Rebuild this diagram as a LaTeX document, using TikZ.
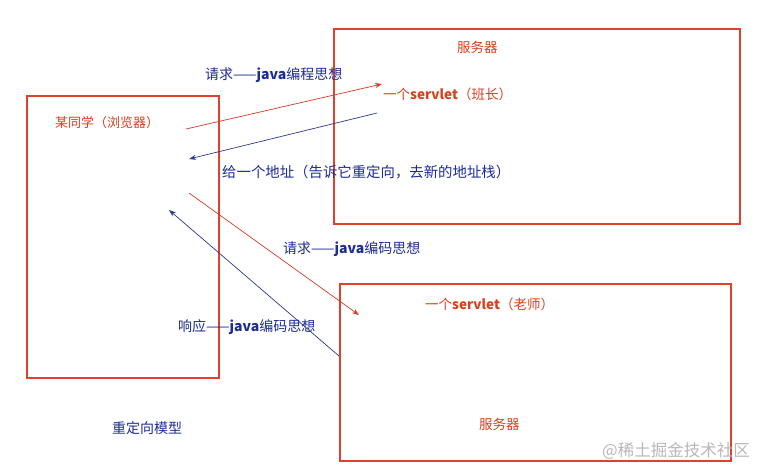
\documentclass[tikz,border=0pt]{standalone}
\usepackage{fontspec}
\newfontfamily\cjk{Noto Sans CJK SC}
\usetikzlibrary{arrows.meta}
\definecolor{boxred}{HTML}{E0402E}
\definecolor{txtred}{HTML}{D8401E}
\definecolor{txtblue}{HTML}{1E2C96}
\definecolor{arrred}{HTML}{D83A26}
\definecolor{arrblue}{HTML}{2A3A8C}
\tikzset{
  box/.style={draw=boxred, line width=1.8pt},
  rtxt/.style={text=txtred, font=\cjk\fontsize{13.5}{16}\selectfont, anchor=west, inner sep=0pt},
  btxt/.style={text=txtblue, font=\cjk\fontsize{14}{16}\selectfont, anchor=west, inner sep=0pt},
  wmark/.style={anchor=west, inner sep=0pt, text=black!28, font=\cjk\fontsize{16.5}{18}\selectfont},
  rarr/.style={draw=arrred, line width=0.7pt, -{Stealth[length=7pt,width=5pt]}},
  barr/.style={draw=arrblue, line width=0.7pt, -{Stealth[length=7pt,width=5pt]}},
}
\begin{document}
\begin{tikzpicture}[x=1pt,y=-1pt]
\useasboundingbox[fill=white] (0,0) rectangle (759,472);
% boxes
\draw[box] (27,96) rectangle (219,378);
\draw[box] (334,29) rectangle (740,224);
\draw[box] (340,284) rectangle (731,461);
% texts
\node[rtxt] (srv1) at (457,47) {服务器};
\node[btxt] (req1) at (205,75) {请求——\textbf{java}编程思想};
\node[rtxt] (s1) at (383,94) {一个\textbf{servlet}（班长）};
\node[rtxt, font=\cjk\fontsize{13}{16}\selectfont] (brw) at (55,123) {某同学（浏览器）};
\node[btxt, font=\cjk\fontsize{14.4}{16}\selectfont] (addr) at (222,172) {给一个地址（告诉它重定向，去新的地址栈）};
\node[btxt] (req2) at (283,249) {请求——\textbf{java}编码思想};
\node[rtxt] (s2) at (425,304) {一个\textbf{servlet}（老师）};
\node[btxt] (resp) at (178,327) {响应——\textbf{java}编码思想};
\node[btxt] (model) at (112,428) {重定向模型};
\node[rtxt] (srv2) at (479,424) {服务器};
\node[wmark] (wm) at (602,451) {@稀土掘金技术社区};
% arrow end points
\coordinate (a1s) at (186,129);
\coordinate (a1e) at (382,84);
\coordinate (a2s) at (377,113);
\coordinate (a2e) at (189,159);
\coordinate (a3s) at (189,193);
\coordinate (a3e) at (359,315);
\coordinate (a4s) at (339,356);
\coordinate (a4e) at (169,210);
\draw[rarr] (a1s) -- (a1e);
\draw[barr] (a2s) -- (a2e);
\draw[rarr] (a3s) -- (a3e);
\draw[barr] (a4s) -- (a4e);
\end{tikzpicture}
\end{document}
